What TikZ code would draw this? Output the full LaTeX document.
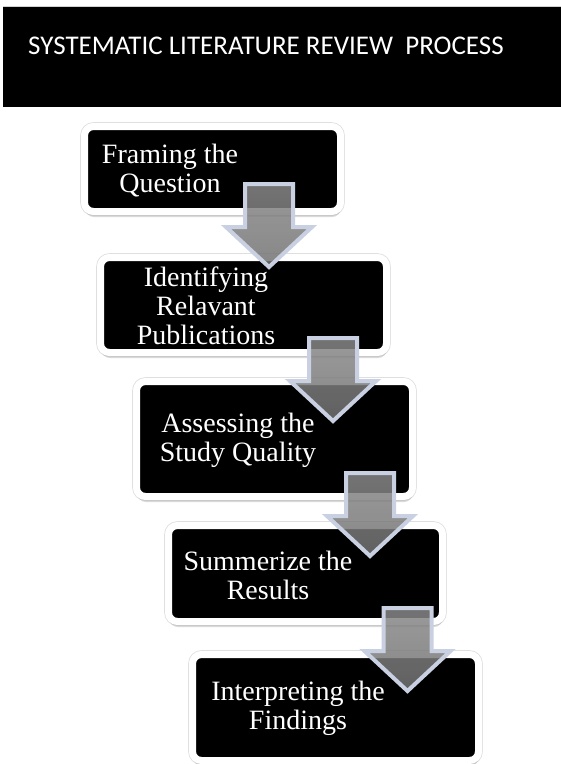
\documentclass[tikz,border=0pt]{standalone}
\usepackage{fontspec}
\setmainfont{Liberation Serif}
\newfontfamily\titlefont{Carlito}
\usepackage{tikz}
\usetikzlibrary{shadows}

\definecolor{arrowtop}{HTML}{888888}
\definecolor{arrowbot}{HTML}{727272}
\definecolor{arrowrim}{HTML}{C8D0E2}

\begin{document}
\begin{tikzpicture}[x=1pt, y=-1pt,
  stepbox/.style={draw=white, line width=7pt, fill=black, rounded corners=9pt,
    preaction={draw=gray!25, line width=8.6pt},
    drop shadow={shadow xshift=0.5pt, shadow yshift=-5.5pt, opacity=.3, fill=gray}},
  steptext/.style={text=white, align=center, font=\fontsize{28}{29}\selectfont},
  flowarrow/.style={draw=arrowrim, line width=4pt, line join=miter,
    top color=arrowtop, bottom color=arrowbot, fill opacity=.85}]
\useasboundingbox (0,0) rectangle (561,764);

% Title bar
\fill[black] (3,6) rectangle (561,107);
\draw[gray!35, line width=0.8pt] (3,6) -- (561,6);
\node[text=white, font=\titlefont\fontsize{27}{30}\selectfont] (title) at (266,45.5)
  {SYSTEMATIC LITERATURE REVIEW\ \ PROCESS};

% Steps
\node[stepbox, minimum width=256, minimum height=85] (b1) at (212.5,169) {};
\node[stepbox, minimum width=286, minimum height=95] (b2) at (243.5,305) {};
\node[stepbox, minimum width=276, minimum height=115] (b3) at (274.5,439) {};
\node[stepbox, minimum width=274, minimum height=96] (b4) at (305.5,573.5) {};
\node[stepbox, minimum width=286, minimum height=106] (b5) at (335.5,707.5) {};

\node[steptext] (t1) at (170,170.5) {Framing the\\Question};
\node[steptext] (t2) at (206,306) {Identifying\\Relavant\\Publications};
\node[steptext] (t3) at (238,440.5) {Assessing the\\Study Quality};
\node[steptext] (t4) at (268,575.5) {Summerize the\\Results};
\node[steptext] (t5) at (298,708) {Interpreting the\\Findings};

% Arrows between steps
\draw[flowarrow] (245,184) -- ++(48,0) -- ++(0,43) -- ++(19,0) -- ++(-43,40) -- ++(-43,-40) -- ++(19,0) -- cycle;
\draw[flowarrow] (309,338) -- ++(48,0) -- ++(0,43) -- ++(19,0) -- ++(-43,40) -- ++(-43,-40) -- ++(19,0) -- cycle;
\draw[flowarrow] (346,473) -- ++(48,0) -- ++(0,43) -- ++(19,0) -- ++(-43,40) -- ++(-43,-40) -- ++(19,0) -- cycle;
\draw[flowarrow] (383.5,608) -- ++(48,0) -- ++(0,43) -- ++(19,0) -- ++(-43,40) -- ++(-43,-40) -- ++(19,0) -- cycle;
\end{tikzpicture}
\end{document}
